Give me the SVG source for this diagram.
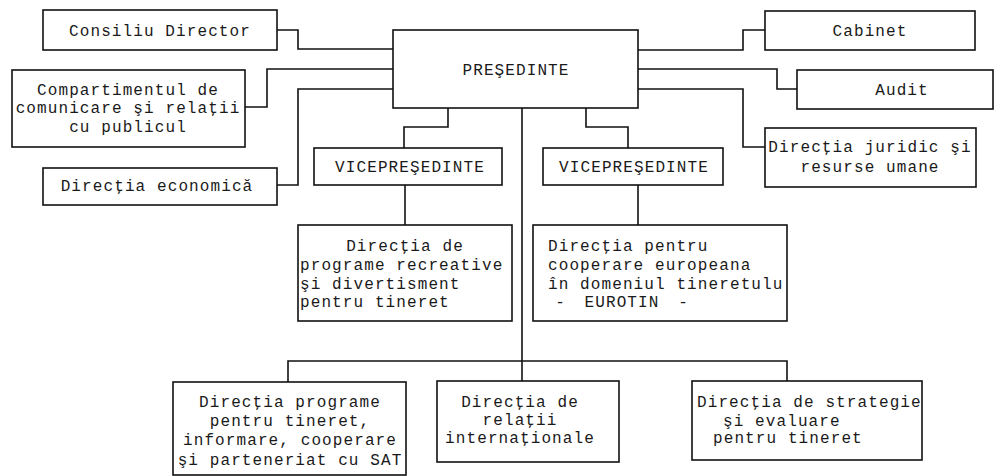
<svg xmlns="http://www.w3.org/2000/svg" width="994" height="476" viewBox="0 0 994 476">
<style>
.box{fill:#fff;stroke:#111;stroke-width:1.6}
.c{fill:none;stroke:#111;stroke-width:1.6}
text{font-family:"Liberation Mono","DejaVu Sans Mono",monospace;font-size:16px;letter-spacing:1.1px;fill:#1a1a1a}
.m{text-anchor:middle}
</style>
<rect width="994" height="476" fill="#fff"/>
<g id="connectors">
<polyline class="c" points="277,30 298,30 298,49 393,49"/>
<polyline class="c" points="245,107 267,107 267,69 393,69"/>
<polyline class="c" points="277,185 298,185 298,89 393,89"/>
<polyline class="c" points="638,50 743,50 743,30 765,30"/>
<polyline class="c" points="638,69 777,69 777,89 797,89"/>
<polyline class="c" points="638,89 743,89 743,147 765,147"/>
<polyline class="c" points="448,108 448,127 404,127 404,148"/>
<polyline class="c" points="586,108 586,127 628,127 628,148"/>
<line class="c" x1="405" y1="185" x2="405" y2="225"/>
<line class="c" x1="638" y1="185" x2="638" y2="225"/>
<line class="c" x1="522" y1="108" x2="522" y2="381"/>
<polyline class="c" points="288,382 288,361 787,361 787,381"/>
</g>
<g id="presedinte">
<rect class="box" x="393" y="30" width="245" height="78"/>
<text class="m" x="516" y="75">PREŞEDINTE</text>
</g>
<g id="consiliu">
<rect class="box" x="43" y="10" width="234" height="40"/>
<text class="m" x="160" y="36">Consiliu Director</text>
</g>
<g id="compartiment">
<rect class="box" x="12" y="70" width="233" height="77"/>
<text class="m" x="128" y="95">Compartimentul de</text>
<text class="m" x="128" y="113">comunicare şi relaţii</text>
<text class="m" x="128" y="132">cu publicul</text>
</g>
<g id="economica">
<rect class="box" x="43" y="168" width="234" height="37"/>
<text class="m" x="157" y="191">Direcţia economică</text>
</g>
<g id="cabinet">
<rect class="box" x="765" y="11" width="210" height="39"/>
<text class="m" x="870" y="36">Cabinet</text>
</g>
<g id="audit">
<rect class="box" x="797" y="70" width="196" height="39"/>
<text class="m" x="902" y="95">Audit</text>
</g>
<g id="juridic">
<rect class="box" x="765" y="128" width="211" height="59"/>
<text class="m" x="870" y="152">Direcţia juridic şi</text>
<text class="m" x="870" y="172">resurse umane</text>
</g>
<g id="vp1">
<rect class="box" x="314" y="148" width="188" height="37"/>
<text class="m" x="410" y="172">VICEPREŞEDINTE</text>
</g>
<g id="vp2">
<rect class="box" x="543" y="148" width="180" height="37"/>
<text class="m" x="634" y="172">VICEPREŞEDINTE</text>
</g>
<g id="recreative">
<rect class="box" x="298" y="225" width="214" height="96"/>
<text class="m" x="405" y="251">Direcţia de</text>
<text x="300" y="270">programe recreative</text>
<text x="300" y="289">şi divertisment</text>
<text x="300" y="307">pentru tineret</text>
</g>
<g id="eurotin">
<rect class="box" x="533" y="225" width="254" height="96"/>
<text x="548" y="251">Direcţia pentru</text>
<text x="548" y="270">cooperare europeana</text>
<text x="548" y="289">în domeniul tineretulu</text>
<text class="m" x="622" y="307" word-spacing="8">- EUROTIN -</text>
</g>
<g id="programe">
<rect class="box" x="173" y="382" width="233" height="93"/>
<text class="m" x="290" y="407">Direcţia programe</text>
<text class="m" x="290" y="426">pentru tineret,</text>
<text class="m" x="290" y="445">informare, cooperare</text>
<text class="m" x="290" y="465">şi parteneriat cu SAT</text>
</g>
<g id="internationale">
<rect class="box" x="437" y="381" width="182" height="81"/>
<text class="m" x="520" y="407">Direcţia de</text>
<text class="m" x="520" y="425">relaţii</text>
<text class="m" x="520" y="443">internaţionale</text>
</g>
<g id="strategie">
<rect class="box" x="692" y="381" width="230" height="79"/>
<text x="697" y="407">Direcţia de strategie</text>
<text x="723" y="426">şi evaluare</text>
<text x="713" y="443">pentru tineret</text>
</g>
</svg>
